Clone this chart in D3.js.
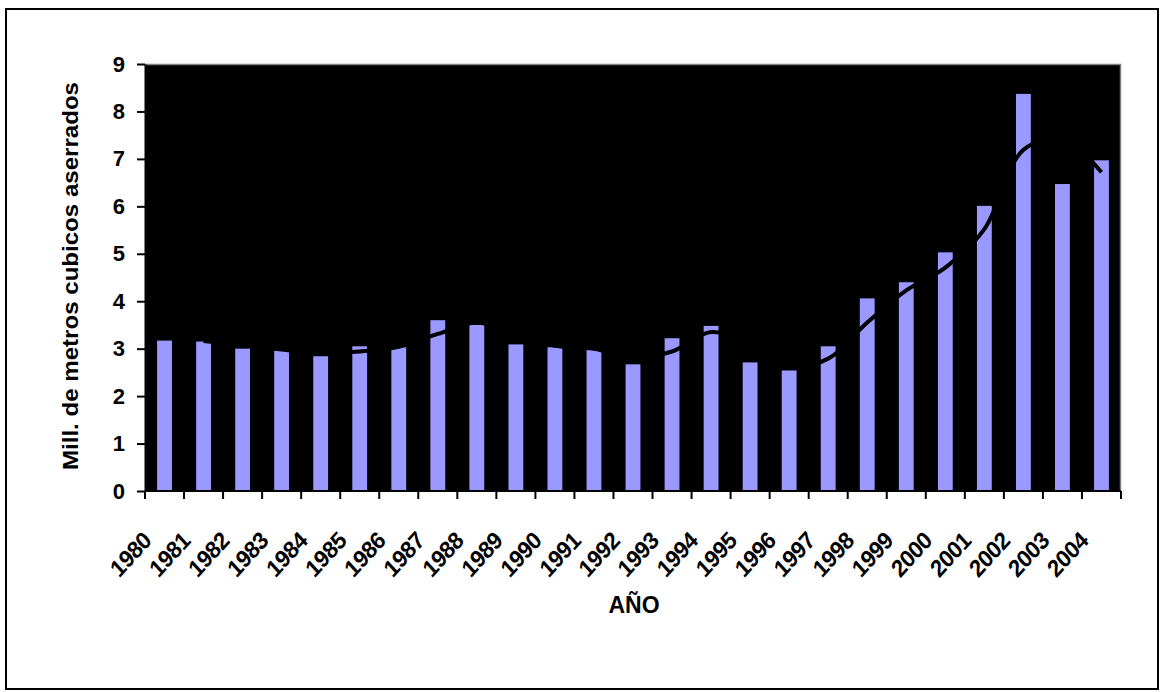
<!DOCTYPE html>
<html>
<head>
<meta charset="utf-8">
<script src="https://cdn.jsdelivr.net/npm/d3@7"></script>
<style>
  html, body { margin: 0; padding: 0; background: #fff; }
  svg { display: block; font-family: Arial, "Liberation Sans", sans-serif; }
</style>
</head>
<body>
<svg id="chart" width="1165" height="692"></svg>
<script>
// Annual sawn timber production (millions of cubic metres)
const years = ["1980","1981","1982","1983","1984","1985","1986","1987","1988","1989",
               "1990","1991","1992","1993","1994","1995","1996","1997","1998","1999",
               "2000","2001","2002","2003","2004"];
const volumes = [3.17, 3.15, 3.00, 2.96, 2.84, 3.05, 3.03, 3.60, 3.50, 3.09,
                 3.03, 2.97, 2.67, 3.22, 3.48, 2.71, 2.54, 3.05, 4.06, 4.40,
                 5.03, 6.01, 8.37, 6.47, 6.97];
// Two-period moving-average trend, starting at 1981
const trendYears = years.slice(1);
const trendValues = [3.16, 3.07, 2.98, 2.90, 2.94, 3.04, 3.31, 3.55, 3.30, 3.06,
                     3.00, 2.82, 2.94, 3.35, 3.10, 2.62, 2.79, 3.55, 4.23, 4.71,
                     5.52, 7.19, 7.42, 6.72];
const yTicks = [0, 1, 2, 3, 4, 5, 6, 7, 8, 9];

const svg = d3.select("#chart");
const plot = { left: 145, top: 64, right: 1121, bottom: 491 };

// Outer frame
svg.append("rect")
  .attr("x", 6).attr("y", 9).attr("width", 1152).attr("height", 680)
  .attr("fill", "#fff").attr("stroke", "#000").attr("stroke-width", 2);

const x = d3.scaleBand().domain(years).range([plot.left, plot.right]).paddingInner(0).paddingOuter(0);
const y = d3.scaleLinear().domain([0, 9]).range([plot.bottom, plot.top]);

// Plot area background
svg.append("rect")
  .attr("x", plot.left).attr("y", plot.top)
  .attr("width", plot.right - plot.left).attr("height", plot.bottom - plot.top)
  .attr("fill", "#000");
// Top and right edges of the plot frame
svg.append("path")
  .attr("d", `M${plot.left},${plot.top + 0.5}H${plot.right - 0.5}V${plot.bottom}`)
  .attr("fill", "none").attr("stroke", "#808080").attr("stroke-width", 1.5);

// Bars
const barW = x.bandwidth() * 0.38;
svg.append("g").selectAll("rect")
  .data(years.map((yr, i) => ({ yr, v: volumes[i] })))
  .join("rect")
  .attr("x", d => x(d.yr) + (x.bandwidth() - barW) / 2)
  .attr("width", barW)
  .attr("y", d => y(d.v))
  .attr("height", d => y(0) - y(d.v))
  .attr("fill", "#9999ff");

// Trend line
const line = d3.line()
  .x((d, i) => x(trendYears[i]) + x.bandwidth() / 2)
  .y(d => y(d))
  .curve(d3.curveCatmullRom.alpha(0.5));
svg.append("path")
  .datum(trendValues)
  .attr("d", line)
  .attr("fill", "none")
  .attr("stroke", "#000")
  .attr("stroke-width", 4)
  .attr("stroke-linejoin", "round");

// Y axis
const yAxis = svg.append("g")
  .attr("transform", `translate(${plot.left},0)`)
  .call(d3.axisLeft(y).tickValues(yTicks).tickSize(8).tickPadding(12).tickSizeOuter(0));
yAxis.select(".domain").attr("stroke", "#000").attr("stroke-width", 2);
yAxis.selectAll(".tick line").attr("stroke", "#000").attr("stroke-width", 2);
yAxis.selectAll(".tick text")
  .attr("font-size", 22).attr("font-weight", "bold").attr("fill", "#000")
  .attr("font-family", "Arial, 'Liberation Sans', sans-serif");

// X axis: ticks at category boundaries
const xAxisG = svg.append("g").attr("transform", `translate(0,${plot.bottom})`);
xAxisG.append("line")
  .attr("x1", plot.left).attr("x2", plot.right)
  .attr("stroke", "#000").attr("stroke-width", 2);
const boundaries = years.map(yr => x(yr)).concat([plot.right]);
xAxisG.selectAll("line.tick")
  .data(boundaries)
  .join("line")
  .attr("class", "tick")
  .attr("x1", d => d).attr("x2", d => d)
  .attr("y1", 0).attr("y2", 8)
  .attr("stroke", "#000").attr("stroke-width", 2);

// Rotated year labels
svg.append("g").selectAll("text")
  .data(years)
  .join("text")
  .attr("transform", d => `translate(${x(d) + x.bandwidth() / 2 - 12},542) scale(1,1.1) rotate(-45)`)
  .attr("text-anchor", "end")
  .attr("font-size", 22)
  .attr("font-weight", "bold")
  .attr("letter-spacing", -0.5)
  .attr("fill", "#000")
  .text(d => d);

// Axis titles
svg.append("text")
  .attr("x", 634).attr("y", 613)
  .attr("text-anchor", "middle")
  .attr("font-size", 23).attr("font-weight", "bold")
  .text("AÑO");

svg.append("text")
  .attr("transform", "translate(78,276) rotate(-90)")
  .attr("text-anchor", "middle")
  .attr("font-size", 22).attr("font-weight", "bold")
  .attr("textLength", 388).attr("lengthAdjust", "spacingAndGlyphs")
  .text("Mill. de metros cubicos aserrados");
</script>
</body>
</html>
